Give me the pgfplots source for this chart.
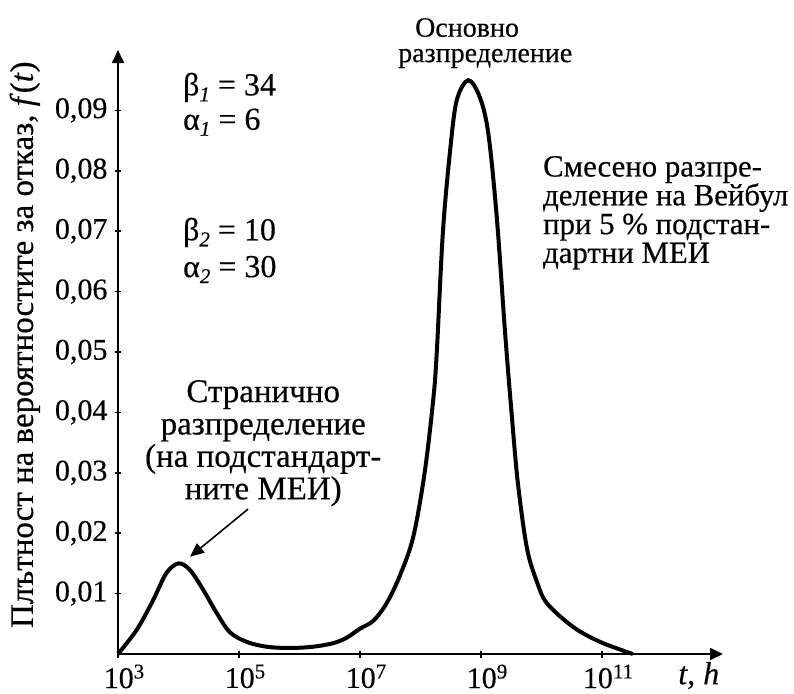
\documentclass[border=0pt]{standalone}
\usepackage{fontspec}
\setmainfont{Liberation Serif}[FakeBold=0.4]
\usepackage{pgfplots}
\pgfplotsset{compat=1.18}
\usetikzlibrary{arrows.meta}

\newcommand{\lbl}{\fontsize{16}{14.3}\selectfont}
\newcommand{\pow}[1]{10\raisebox{4.8pt}{\fontsize{10.5}{12}\selectfont #1}}
\newcommand{\sub}[1]{\raisebox{-3pt}{\fontsize{10.5}{12}\selectfont\itshape #1}}

\begin{document}
\begin{tikzpicture}
\begin{axis}[
  scale only axis,
  width=302.5pt, height=302pt,
  xmode=log,
  xmin=1e3, xmax=1e13,
  ymin=0, ymax=0.1,
  axis x line=bottom, axis y line=left,
  axis line style={line width=0.9pt, -{Triangle[length=6.5pt,width=6pt]}},
  tick align=center,
  major tick length=3.5pt,
  tick style={line width=0.8pt, black},
  xminorticks=false,
  xtick={1e3,1e5,1e7,1e9,1e11},
  xticklabels={\pow{3},\pow{5},\pow{7},\pow{9},\pow{11}},
  xticklabel style={xshift=3pt},
  ytick={0.01,0.02,0.03,0.04,0.05,0.06,0.07,0.08,0.09},
  yticklabels={{0,01},{0,02},{0,03},{0,04},{0,05},{0,06},{0,07},{0,08},{0,09}},
  ticklabel style={font=\fontsize{15}{18}\selectfont},
  ylabel={Плътност на вероятностите за отказ, \textit{f}(\textit{t})},
  ylabel style={font=\fontsize{16.5}{18}\selectfont, at={(rel axis cs:-0.154,0.512)}, anchor=center},
  clip=false,
]
% Weibull mixture density
\addplot[line width=2pt, smooth, tension=0.55] coordinates {
  (1.00e3,0.0000) (2.04e3,0.0040) (3.80e3,0.0089) (6.31e3,0.0134)
  (1.00e4,0.0150) (1.55e4,0.0139) (2.57e4,0.0106) (4.27e4,0.0068)
  (7.08e4,0.0036) (1.35e5,0.0020) (2.88e5,0.0012) (6.92e5,0.0010)
  (1.66e6,0.0012) (3.63e6,0.0018) (6.03e6,0.0027) (1.00e7,0.0042)
  (1.66e7,0.0055) (2.75e7,0.0084) (4.57e7,0.0130) (7.59e7,0.0194)
  (1.17e8,0.0300) (1.62e8,0.0420) (1.86e8,0.0500) (2.34e8,0.0697)
  (3.09e8,0.0834) (3.98e8,0.0917) (6.17e8,0.0950) (9.55e8,0.0922)
  (1.32e9,0.0862) (1.82e9,0.0724) (2.51e9,0.0530) (3.24e9,0.0393)
  (4.07e9,0.0283) (5.75e9,0.0175) (8.51e9,0.0118) (1.23e10,0.0084)
  (3.31e10,0.0045) (9.33e10,0.0020) (3.24e11,0.0000)
};
\node[anchor=base west, font=\lbl] at (rel axis cs:0.096,0.925) {β\sub{1} = 34};
\node[anchor=base west, font=\lbl] at (rel axis cs:0.096,0.868) {α\sub{1} = 6};
\node[anchor=base west, font=\lbl] at (rel axis cs:0.096,0.685) {β\sub{2} = 10};
\node[anchor=base west, font=\lbl] at (rel axis cs:0.096,0.624) {α\sub{2} = 30};
\node[anchor=base, font=\fontsize{14}{14}\selectfont] at (rel axis cs:0.577,1.022) {Основно};
\node[anchor=base, font=\fontsize{14}{14}\selectfont] at (rel axis cs:0.607,0.980) {разпределение};
\node[align=left, anchor=north west, inner sep=0pt, font=\fontsize{15.4}{14.4}\selectfont] at (rel axis cs:0.702,0.825) {Смесено разпре-\\деление на Вейбул\\при 5 \% подстан-\\дартни МЕИ};
\node[align=center, anchor=north, inner sep=0pt, font=\fontsize{16.5}{16.2}\selectfont] at (rel axis cs:0.240,0.454) {Странично\\разпределение\\(на подстандарт-\\ните МЕИ)};
\draw[-{Triangle[length=7pt,width=6pt]}, line width=0.8pt] (rel axis cs:0.215,0.240) -- (rel axis cs:0.119,0.161);
\node[anchor=base, font=\lbl] at (rel axis cs:0.96,-0.05) {\textit{t}, \textit{h}};
\coordinate (O) at (rel axis cs:0,0);
\end{axis}
\pgfresetboundingbox
\path[use as bounding box] ([shift={(-59pt,-19.5pt)}]O) rectangle ([shift={(338pt,327pt)}]O);
\end{tikzpicture}
\end{document}
